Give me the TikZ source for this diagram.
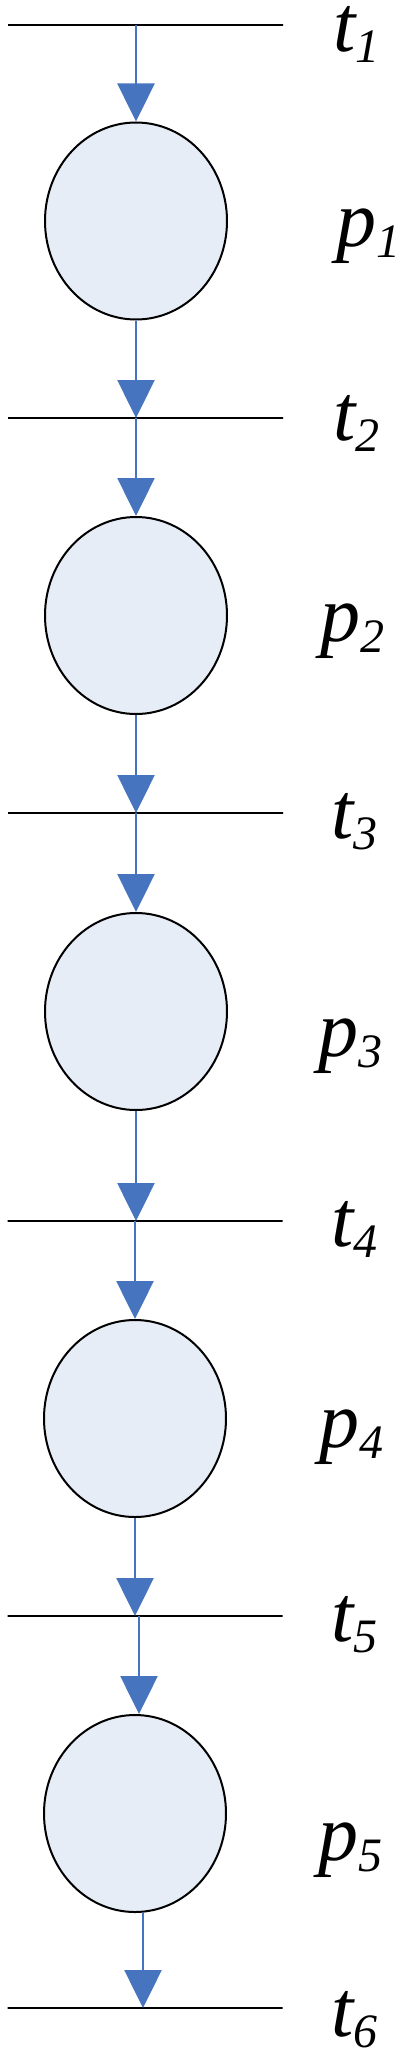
\documentclass[tikz,border=0pt]{standalone}
\usepackage{fontspec}
\setmainfont{Liberation Serif}[ItalicFont={Liberation Serif Italic}]
\newfontfamily\labfont{Liberation Serif Italic}
\usetikzlibrary{shapes.geometric,arrows.meta,calc}
\definecolor{arrblue}{RGB}{70,116,190}
\definecolor{placefill}{RGB}{231,237,247}
\newcommand\mysub[1]{\raisebox{-11pt}{\fontsize{48pt}{48pt}\selectfont\labfont #1}}
\tikzset{
  trans/.style={draw=black,line width=2pt,minimum width=275pt,minimum height=0pt,inner sep=0pt,rectangle},
  place/.style={draw=black,line width=2pt,fill=placefill,ellipse,minimum width=182pt,minimum height=197pt,inner sep=0pt},
  arr/.style={draw=arrblue,line width=2.5pt,-{Triangle[length=38pt,width=37pt]}},
  lab/.style={anchor=base west,inner sep=0pt,font=\fontsize{80pt}{80pt}\selectfont\labfont}
}
\begin{document}
\begin{tikzpicture}[x=1pt,y=-1pt]
\useasboundingbox (0,0) rectangle (403,2055);
% transitions
\node[trans] (t1) at (145.5,25) {};
\node[trans] (t2) at (145.5,418) {};
\node[trans] (t3) at (145.5,813) {};
\node[trans] (t4) at (145,1221) {};
\node[trans] (t5) at (145,1616) {};
\node[trans] (t6) at (145,2008) {};
% places
\node[place] (p1) at (136,221) {};
\node[place] (p2) at (136,615.5) {};
\node[place] (p3) at (136,1011.5) {};
\node[place] (p4) at (135,1418.5) {};
\node[place] (p5) at (135,1813.5) {};
% arcs
\draw[arr] (p1 |- t1) -- (p1.north);
\draw[arr] (p1.south) -- (p1 |- t2);
\draw[arr] (p2 |- t2) -- (p2.north);
\draw[arr] (p2.south) -- (p2 |- t3);
\draw[arr] (p3 |- t3) -- (p3.north);
\draw[arr] (p3.south) -- (p3 |- t4);
\draw[arr] (p4 |- t4) -- (p4.north);
\draw[arr] (p4.south) -- (p4 |- t5);
\draw[arr] ($(p5 |- t5)+(4,0)$) -- ($(p5.north)+(4,0)$);
\draw[arr] ($(p5.south)+(8,0)$) -- ($(p5 |- t6)+(8,0)$);
% labels
\node[lab] (lt1) at (333,52) {t\mysub{1}};
\node[lab] (lt2) at (333,440) {t\mysub{2}};
\node[lab] (lt3) at (331,838) {t\mysub{3}};
\node[lab] (lt4) at (331,1246) {t\mysub{4}};
\node[lab] (lt5) at (331,1641) {t\mysub{5}};
\node[lab] (lt6) at (331,2036) {t\mysub{6}};
\node[lab] (lp1) at (336,246) {p\mysub{1}};
\node[lab] (lp2) at (320,641) {p\mysub{2}};
\node[lab] (lp3) at (318,1056) {p\mysub{3}};
\node[lab] (lp4) at (319,1447) {p\mysub{4}};
\node[lab] (lp5) at (318,1860) {p\mysub{5}};
\end{tikzpicture}
\end{document}
